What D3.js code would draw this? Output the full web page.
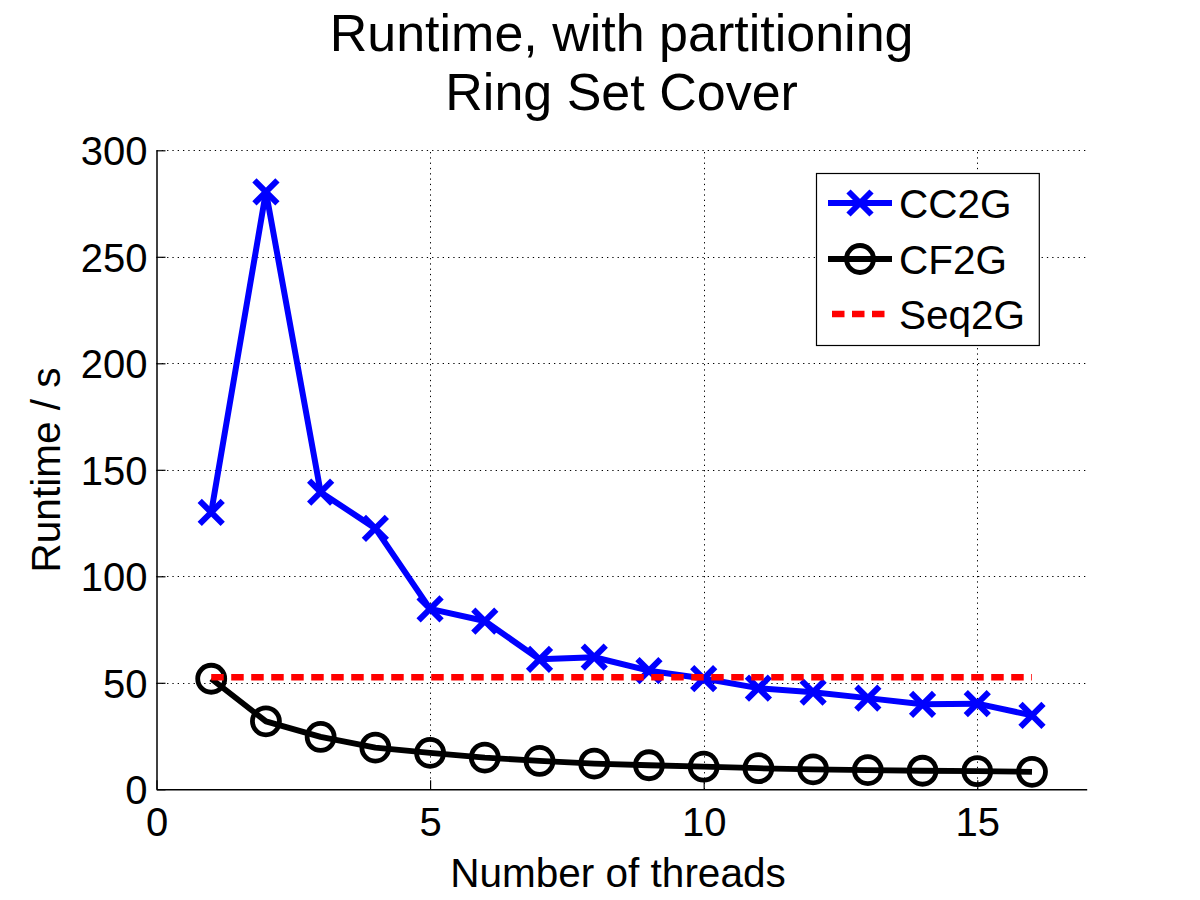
<!DOCTYPE html>
<html>
<head>
<meta charset="utf-8">
<script src="https://cdn.jsdelivr.net/npm/d3@7"></script>
<style>
  html, body { margin: 0; padding: 0; background: #fff; }
  svg text { font-family: "Liberation Sans", Arial, Helvetica, sans-serif; fill: #000; }
</style>
</head>
<body>
<svg id="chart" width="1200" height="900"></svg>
<script>
// ---- Data ----
const threads = [1, 2, 3, 4, 5, 6, 7, 8, 9, 10, 11, 12, 13, 14, 15, 16];
const cc2g = [130, 280.5, 139.5, 122.5, 84.7, 79, 61, 62, 55.7, 52, 47.5, 45.6, 42.8, 39.9, 40.2, 34.7];
const cf2g = [51.9, 31.9, 24.6, 19.6, 17.1, 14.9, 13.3, 12.1, 11.3, 10.6, 9.9, 9.4, 9.0, 8.7, 8.5, 8.2];
const seq2g = [52.6, 52.6];
const seq2gX = [1, 16];
const xTicks = [0, 5, 10, 15];
const yTicks = [0, 50, 100, 150, 200, 250, 300];
const titleLines = ["Runtime, with partitioning", "Ring Set Cover"];
const xLabel = "Number of threads";
const yLabel = "Runtime / s";
const legendNames = ["CC2G", "CF2G", "Seq2G"];

// ---- Layout ----
const svg = d3.select("#chart");
const L = 156.5, R = 1086.7, T = 150.3, B = 789.3;
const x = d3.scaleLinear().domain([0, 17]).range([L, R]);
const y = d3.scaleLinear().domain([0, 300]).range([B, T]);

svg.append("rect").attr("width", 1200).attr("height", 900).attr("fill", "#fff");

// grid
const grid = svg.append("g").attr("stroke", "#000").attr("stroke-width", 1)
  .attr("stroke-dasharray", "1.3,4").attr("fill", "none");
grid.selectAll("line.gx").data(xTicks.filter(d => d > 0)).join("line")
  .attr("x1", d => Math.round(x(d)) + 0.5).attr("x2", d => Math.round(x(d)) + 0.5)
  .attr("y1", B).attr("y2", T);
grid.selectAll("line.gy").data(yTicks.filter(d => d > 0)).join("line")
  .attr("y1", d => Math.round(y(d)) + 0.5).attr("y2", d => Math.round(y(d)) + 0.5)
  .attr("x1", L).attr("x2", R);

// axes (inward ticks)
const xAxis = d3.axisBottom(x).tickValues(xTicks).tickSizeInner(-9).tickSizeOuter(0).tickPadding(18);
const yAxis = d3.axisLeft(y).tickValues(yTicks).tickSizeInner(-9).tickSizeOuter(0).tickPadding(9);
const gx = svg.append("g").attr("transform", `translate(0,${B})`).call(xAxis);
const gy = svg.append("g").attr("transform", `translate(${L},0)`).call(yAxis);
[gx, gy].forEach(g => {
  g.selectAll("path.domain").attr("stroke", "#000").attr("stroke-width", 1.5);
  g.selectAll(".tick line").attr("stroke", "#000").attr("stroke-width", 1.2);
  g.selectAll(".tick text").attr("font-size", 40)
    .attr("font-family", '"Liberation Sans", Arial, Helvetica, sans-serif').attr("fill", "#000");
});
gx.selectAll(".tick text").attr("dy", "0.71em");
gy.selectAll(".tick text").attr("dy", "0.36em");

// title
svg.append("text").attr("x", (L + R) / 2).attr("y", 51).attr("text-anchor", "middle")
  .attr("font-size", 52).text(titleLines[0]);
svg.append("text").attr("x", (L + R) / 2).attr("y", 110).attr("text-anchor", "middle")
  .attr("font-size", 52).text(titleLines[1]);

// axis labels
svg.append("text").attr("x", 618).attr("y", 887).attr("text-anchor", "middle")
  .attr("font-size", 40.5).text(xLabel);
svg.append("text").attr("transform", `translate(60,470) rotate(-90)`).attr("text-anchor", "middle")
  .attr("font-size", 40.5).text(yLabel);

// marker helpers
function xMarker(g, cx, cy, s, color) {
  g.append("path").attr("d", `M${cx - s},${cy - s}L${cx + s},${cy + s}M${cx - s},${cy + s}L${cx + s},${cy - s}`)
    .attr("stroke", color).attr("stroke-width", 6).attr("fill", "none");
}
function oMarker(g, cx, cy, r, color) {
  g.append("circle").attr("cx", cx).attr("cy", cy).attr("r", r)
    .attr("stroke", color).attr("stroke-width", 4.8).attr("fill", "none");
}

const line = d3.line().x(d => x(d[0])).y(d => y(d[1]));

// CC2G
const s1 = svg.append("g");
s1.append("path").datum(threads.map((t, i) => [t, cc2g[i]])).attr("d", line)
  .attr("stroke", "#0000ff").attr("stroke-width", 6).attr("fill", "none").attr("stroke-linejoin", "round");
threads.forEach((t, i) => xMarker(s1, x(t), y(cc2g[i]), 11.5, "#0000ff"));

// CF2G
const s2 = svg.append("g");
s2.append("path").datum(threads.map((t, i) => [t, cf2g[i]])).attr("d", line)
  .attr("stroke", "#000").attr("stroke-width", 5.8).attr("fill", "none").attr("stroke-linejoin", "round");
threads.forEach((t, i) => oMarker(s2, x(t), y(cf2g[i]), 13.5, "#000"));

// Seq2G
svg.append("path").datum(seq2gX.map((t, i) => [t, seq2g[i]])).attr("d", line)
  .attr("stroke", "#ff0000").attr("stroke-width", 6.5).attr("fill", "none")
  .attr("stroke-dasharray", "12.5,7.5");

// legend
const lg = svg.append("g");
lg.append("rect").attr("x", 816.5).attr("y", 173.5).attr("width", 222.8).attr("height", 172)
  .attr("fill", "#fff").attr("stroke", "#000").attr("stroke-width", 1.2);
const rows = [203, 259, 314];
// CC2G
lg.append("line").attr("x1", 828).attr("x2", 892).attr("y1", rows[0]).attr("y2", rows[0])
  .attr("stroke", "#0000ff").attr("stroke-width", 6);
xMarker(lg, 860, rows[0], 11.5, "#0000ff");
// CF2G
lg.append("line").attr("x1", 828).attr("x2", 892).attr("y1", rows[1]).attr("y2", rows[1])
  .attr("stroke", "#000").attr("stroke-width", 5.8);
oMarker(lg, 860, rows[1], 13.5, "#000");
// Seq2G
lg.append("line").attr("x1", 832).attr("x2", 892).attr("y1", rows[2]).attr("y2", rows[2])
  .attr("stroke", "#ff0000").attr("stroke-width", 6.5).attr("stroke-dasharray", "12.5,7.5");
legendNames.forEach((n, i) => {
  lg.append("text").attr("x", 899).attr("y", rows[i]).attr("dy", "0.36em")
    .attr("font-size", 40.5).text(n);
});
</script>
</body>
</html>
